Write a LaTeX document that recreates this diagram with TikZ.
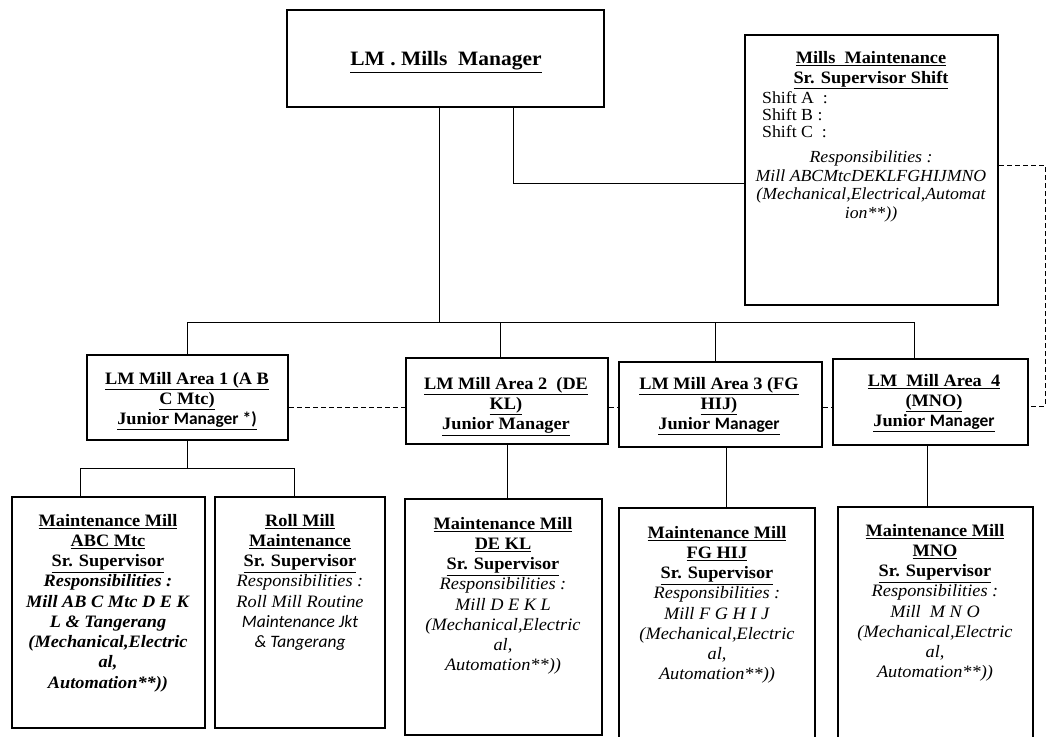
\documentclass[tikz,border=0pt]{standalone}
\usepackage{fontspec}
\setmainfont{Liberation Serif}[FakeStretch=1.05]
\newfontfamily\sansf{Carlito}
\newcommand\hb[1]{\underline{\textbf{#1}}}
\begin{document}
\begin{tikzpicture}[x=1bp,y=-1bp,
  box/.style={draw,line width=2.9bp,inner sep=0pt,fill=white},
  txt/.style={inner sep=0pt,align=center,anchor=north,font=\fontsize{17.5}{20.3}\selectfont},
  smalltxt/.style={inner sep=0pt,align=center,anchor=north,font=\fontsize{17}{18.5}\selectfont},
  link/.style={line width=1bp},
  dlink/.style={line width=1bp,dash pattern=on 5bp off 3bp}]
\clip (0,0) rectangle (1050,737);
% boxes
\node[box,minimum width=317bp,minimum height=97bp] (top) at (445.5,58.5) {};
\node[box,minimum width=253bp,minimum height=270bp] (mills) at (871.5,170) {};
\node[box,minimum width=201bp,minimum height=85bp] (a1) at (187.5,397.5) {};
\node[box,minimum width=202bp,minimum height=86bp] (a2) at (507,401) {};
\node[box,minimum width=203bp,minimum height=85bp] (a3) at (720.5,404.5) {};
\node[box,minimum width=195bp,minimum height=86bp] (a4) at (930.5,402) {};
\node[box,minimum width=193bp,minimum height=231bp] (bA) at (108.5,612.5) {};
\node[box,minimum width=170bp,minimum height=231bp] (bB) at (300,612.5) {};
\node[box,minimum width=197bp,minimum height=236bp] (bC) at (503.5,617) {};
\node[box,minimum width=196bp,minimum height=252bp] (bD) at (717,634) {};
\node[box,minimum width=195bp,minimum height=253bp] (bE) at (935.5,633.5) {};
% coordinates
\coordinate (bus) at (439,322);
\coordinate (j1) at (187,322);
\coordinate (j2) at (500,322);
\coordinate (j3) at (715,322);
\coordinate (j4) at (914,322);
\coordinate (m0) at (513,183);
\coordinate (d1) at (1045,165);
\coordinate (d2) at (1045,406);
\coordinate (dy) at (0,407);
\coordinate (s0) at (187,468);
\coordinate (sA) at (80,468);
\coordinate (sB) at (294,468);
\coordinate (c2) at (507,0);
\coordinate (c3) at (726,0);
\coordinate (c4) at (927,0);
% connectors
\draw[link] (top.south -| bus) -- (bus);
\draw[link] (j1) -- (j4);
\draw[link] (j1) -- (a1.north -| j1);
\draw[link] (j2) -- (a2.north -| j2);
\draw[link] (j3) -- (a3.north -| j3);
\draw[link] (j4) -- (a4.north -| j4);
\draw[link] (top.south -| m0) |- (mills.west |- m0);
\draw[dlink] (mills.east |- d1) -- (d1) -- (d2) -- (a4.east |- d2);
\draw[dlink] (a1.east |- dy) -- (a2.west |- dy);
\draw[dlink] (a2.east |- dy) -- (a3.west |- dy);
\draw[dlink] (a3.east |- dy) -- (a4.west |- dy);
\draw[link] (a1.south -| s0) -- (s0);
\draw[link] (sA) -- (sB);
\draw[link] (sA) -- (bA.north -| sA);
\draw[link] (sB) -- (bB.north -| sB);
\draw[link] (a2.south -| c2) -- (bC.north -| c2);
\draw[link] (a3.south -| c3) -- (bD.north -| c3);
\draw[link] (a4.south -| c4) -- (bE.north -| c4);
% texts
\node[inner sep=0pt,anchor=base,font=\fontsize{20.5}{22}\selectfont] (ttop) at (446,66) {\hb{LM . Mills\ \ Manager}};
\node[txt] (tmills) at (871,51) {\hb{Mills\ \ Maintenance}\\ \hb{Sr. Supervisor Shift}};
\node[inner sep=0pt,align=left,anchor=north west,font=\fontsize{17}{17.5}\selectfont] (tshift) at (762,91) {Shift A\ \ :\\ Shift B :\\ Shift C\ \ :};
\node[smalltxt] (tresp) at (871,151) {\itshape Responsibilities :\\ \itshape Mill ABCMtcDEKLFGHIJMNO\\ \itshape (Mechanical,Electrical,Automat\\ \itshape ion**))};
\node[txt] (ta1) at (187,372) {\hb{LM Mill Area 1 (A B}\\ \hb{C Mtc)}\\ \underline{\textbf{Junior {\sansf Manager *)}}}};
\node[txt] (ta2) at (506,377) {\hb{LM Mill Area 2\ \ (DE}\\ \hb{KL)}\\ \hb{Junior Manager}};
\node[txt] (ta3) at (719,377) {\hb{LM Mill Area 3 (FG}\\ \hb{HIJ)}\\ \underline{\textbf{Junior {\sansf Manager}}}};
\node[txt] (ta4) at (934,374) {\hb{LM\ \ Mill Area\ \ 4}\\ \hb{(MNO)}\\ \underline{\textbf{Junior {\sansf Manager}}}};
\node[txt] (tbA) at (108,514) {\hb{Maintenance Mill}\\ \hb{ABC Mtc}\\ \hb{Sr. Supervisor}\\ \textbf{\textit{Responsibilities :}}\\ \textbf{\textit{Mill AB C Mtc D E K}}\\ \textbf{\textit{L \& Tangerang}}\\ \textbf{\textit{(Mechanical,Electric}}\\ \textbf{\textit{al,}}\\ \textbf{\textit{Automation**))}}};
\node[txt] (tbB) at (300,514) {\hb{Roll Mill}\\ \hb{Maintenance}\\ \hb{Sr. Supervisor}\\ \textit{Responsibilities :}\\ \textit{Roll Mill Routine}\\ {\sansf\itshape Maintenance Jkt}\\ {\sansf\itshape \& Tangerang}};
\node[txt] (tbC) at (503,517) {\hb{Maintenance Mill}\\ \hb{DE KL}\\ \hb{Sr. Supervisor}\\ \textit{Responsibilities :}\\ \textit{Mill D E K L}\\ \textit{(Mechanical,Electric}\\ \textit{al,}\\ \textit{Automation**))}};
\node[txt] (tbD) at (717,526) {\hb{Maintenance Mill}\\ \hb{FG HIJ}\\ \hb{Sr. Supervisor}\\ \textit{Responsibilities :}\\ \textit{Mill F G H I J}\\ \textit{(Mechanical,Electric}\\ \textit{al,}\\ \textit{Automation**))}};
\node[txt] (tbE) at (935,524) {\hb{Maintenance Mill}\\ \hb{MNO}\\ \hb{Sr. Supervisor}\\ \textit{Responsibilities :}\\ \textit{Mill\ \ M N O}\\ \textit{(Mechanical,Electric}\\ \textit{al,}\\ \textit{Automation**))}};
\end{tikzpicture}
\end{document}
